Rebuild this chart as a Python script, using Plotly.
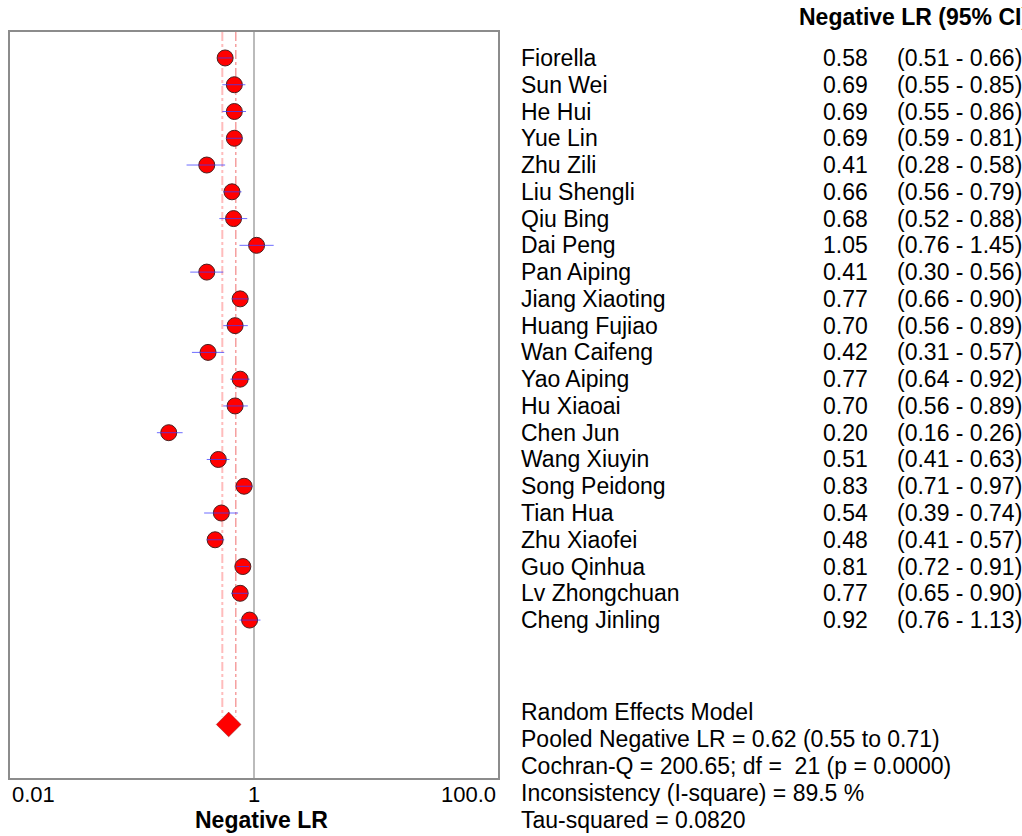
import math
import plotly.graph_objects as go

studies = ["Fiorella", "Sun Wei", "He Hui", "Yue Lin", "Zhu Zili", "Liu Shengli",
           "Qiu Bing", "Dai Peng", "Pan Aiping", "Jiang Xiaoting", "Huang Fujiao",
           "Wan Caifeng", "Yao Aiping", "Hu Xiaoai", "Chen Jun", "Wang Xiuyin",
           "Song Peidong", "Tian Hua", "Zhu Xiaofei", "Guo Qinhua", "Lv Zhongchuan",
           "Cheng Jinling"]
lr = [0.58, 0.69, 0.69, 0.69, 0.41, 0.66, 0.68, 1.05, 0.41, 0.77, 0.70,
      0.42, 0.77, 0.70, 0.20, 0.51, 0.83, 0.54, 0.48, 0.81, 0.77, 0.92]
lo = [0.51, 0.55, 0.55, 0.59, 0.28, 0.56, 0.52, 0.76, 0.30, 0.66, 0.56,
      0.31, 0.64, 0.56, 0.16, 0.41, 0.71, 0.39, 0.41, 0.72, 0.65, 0.76]
hi = [0.66, 0.85, 0.86, 0.81, 0.58, 0.79, 0.88, 1.45, 0.56, 0.90, 0.89,
      0.57, 0.92, 0.89, 0.26, 0.63, 0.97, 0.74, 0.57, 0.91, 0.90, 1.13]
pooled, pooled_lo, pooled_hi = 0.62, 0.55, 0.71
tick_vals = [0.01, 1, 100]
tick_text = ["0.01", "1", "100.0"]
summary_lines = ["Random Effects Model",
                 "Pooled Negative LR = 0.62 (0.55 to 0.71)",
                 "Cochran-Q = 200.65; df =  21 (p = 0.0000)",
                 "Inconsistency (I-square) = 89.5 %",
                 "Tau-squared = 0.0820"]

W, H = 1022, 836
L, R, T, B = 10, 498, 32, 778
rows = list(range(1, len(studies) + 1))
pooled_row = 25.9
YR = [27.9, 0.03]
FONT = "Liberation Sans, Arial, sans-serif"
FS = 23

def px(x):
    return (x - L) / (R - L)

def py(y):
    return (H - y - (H - B)) / (B - T)

fig = go.Figure()

# vertical reference lines
fig.add_trace(go.Scatter(x=[1, 1], y=[YR[0], YR[1]], mode="lines",
                         line=dict(color="#bbbbbb", width=2), hoverinfo="skip"))
fig.add_trace(go.Scatter(x=[pooled_lo, pooled_lo], y=[YR[1], pooled_row - 0.3], mode="lines",
                         line=dict(color="#ffbcbc", width=2, dash="dashdot"), hoverinfo="skip"))
fig.add_trace(go.Scatter(x=[pooled_hi, pooled_hi], y=[YR[1], pooled_row - 0.3], mode="lines",
                         line=dict(color="#f07070", width=1, dash="dashdot"), hoverinfo="skip"))

# study markers
fig.add_trace(go.Scatter(x=lr, y=rows, mode="markers",
                         marker=dict(symbol="circle", size=16, color="#ff0000",
                                     line=dict(color="#4a2020", width=1)),
                         hoverinfo="skip"))
# CI lines on top
xs, ys = [], []
for a, b, r in zip(lo, hi, rows):
    xs += [a, b, None]
    ys += [r, r, None]
fig.add_trace(go.Scatter(x=xs, y=ys, mode="lines",
                         line=dict(color="rgba(60,60,255,0.75)", width=1), hoverinfo="skip"))

# pooled diamond
fig.add_trace(go.Scatter(x=[pooled], y=[pooled_row], mode="markers",
                         marker=dict(symbol="diamond", size=19, color="#ff0000",
                                     line=dict(color="#8a1a1a", width=0.5)),
                         hoverinfo="skip"))

annotations = []
for s, v, a, b, r in zip(studies, lr, lo, hi, rows):
    annotations.append(dict(x=px(519), y=r, xref="paper", yref="y", text=s,
                            xanchor="left", yanchor="middle", showarrow=False,
                            font=dict(family=FONT, size=FS, color="#000")))
    annotations.append(dict(x=px(821), y=r, xref="paper", yref="y", text=f"{v:.2f}",
                            xanchor="left", yanchor="middle", showarrow=False,
                            font=dict(family=FONT, size=FS, color="#000")))
    annotations.append(dict(x=px(895), y=r, xref="paper", yref="y",
                            text=f"({a:.2f} - {b:.2f})",
                            xanchor="left", yanchor="middle", showarrow=False,
                            font=dict(family=FONT, size=FS, color="#000")))

annotations.append(dict(x=px(797), y=py(17), xref="paper", yref="paper",
                        text="<b>Negative LR (95% CI)</b>", xanchor="left", yanchor="middle",
                        showarrow=False, font=dict(family=FONT, size=FS, color="#000")))

for i, line in enumerate(summary_lines):
    annotations.append(dict(x=px(519), y=py(712 + i * 27), xref="paper", yref="paper",
                            text=line, xanchor="left", yanchor="middle", showarrow=False,
                            font=dict(family=FONT, size=FS, color="#000")))

anchors = ["left", "center", "right"]
for v, t, an in zip(tick_vals, tick_text, anchors):
    annotations.append(dict(x=math.log10(v), y=py(794), xref="x", yref="paper", text=t,
                            xanchor=an, yanchor="middle", showarrow=False,
                            font=dict(family=FONT, size=FS - 1, color="#000")))
annotations.append(dict(x=px(261), y=py(820), xref="paper", yref="paper",
                        text="<b>Negative LR</b>", xanchor="center", yanchor="middle",
                        showarrow=False, font=dict(family=FONT, size=FS, color="#000")))

fig.update_layout(
    width=W, height=H,
    margin=dict(l=L, r=W - R, t=T, b=H - B, pad=0),
    paper_bgcolor="white", plot_bgcolor="white",
    showlegend=False,
    annotations=annotations,
    xaxis=dict(type="log", range=[-2, 2], showgrid=False, zeroline=False,
               showticklabels=False, ticks="", showline=True, mirror=True,
               linecolor="#8c8c8c", linewidth=1.5),
    yaxis=dict(range=YR, showgrid=False, zeroline=False, showticklabels=False,
               ticks="", showline=True, mirror=True, linecolor="#8c8c8c", linewidth=1.5),
)

fig.write_html("out.html")
